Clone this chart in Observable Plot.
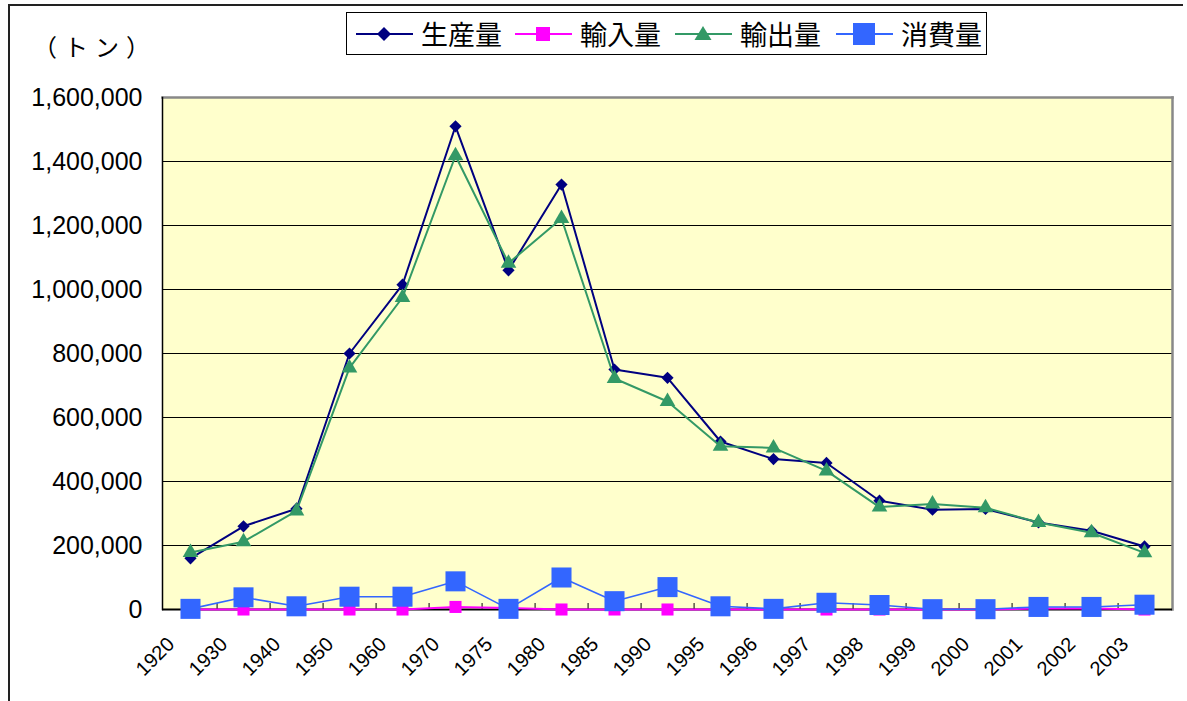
<!DOCTYPE html>
<html><head><meta charset="utf-8">
<script src="https://cdn.jsdelivr.net/npm/d3@7"></script>
<script src="https://cdn.jsdelivr.net/npm/@observablehq/plot@0.6"></script>
<style>
html,body{margin:0;padding:0;background:#fff;}
#wrap{position:relative;width:1187px;height:701px;overflow:hidden;font-family:"Liberation Sans",Arial,sans-serif;}
#outer-left{position:absolute;left:8px;top:4px;width:2px;height:700px;background:#222;}
#outer-top{position:absolute;left:8px;top:4px;width:1175px;height:2px;background:#222;}
#unit{position:absolute;left:33px;top:30px;font-family:"Noto Sans CJK JP",sans-serif;font-size:24px;letter-spacing:7px;line-height:32px;color:#000;}
#legend{position:absolute;left:346px;top:12px;width:639px;height:41px;border:1.5px solid #000;background:#fff;font-family:"Noto Sans CJK JP",sans-serif;font-size:27px;}
#legend .item{position:absolute;top:0;height:41px;display:flex;align-items:center;}
#legend svg{margin-right:8px;}
#chart{position:absolute;left:0;top:0;}
</style></head>
<body><div id="wrap">
<div id="chart"></div>
<div id="outer-left"></div><div id="outer-top"></div>
<div id="unit">（トン）</div>
<div id="legend"></div>
</div>
<script>
const years = ["1920","1930","1940","1950","1960","1970","1975","1980","1985","1990","1995","1996","1997","1998","1999","2000","2001","2002","2003"];
const production = [160000,260000,315000,800000,1015000,1510000,1060000,1328000,750000,724000,525000,470000,458000,340000,312000,314000,272000,246000,197000];
const imports = [0,0,0,0,0,8000,5000,0,0,0,0,0,0,0,0,0,3000,3000,0];
const exports = [178000,212000,308000,755000,975000,1418000,1082000,1222000,722000,650000,510000,505000,433000,320000,330000,318000,272000,240000,177000];
const consumption = [2000,38000,10000,40000,40000,88000,2000,100000,26000,70000,10000,2000,21000,14000,1000,1000,8000,8000,15000];
const yTicks = [0,200000,400000,600000,800000,1000000,1200000,1400000,1600000];
const seriesNames = ["生産量","輸入量","輸出量","消費量"];
const colors = {"生産量":"#000080","輸入量":"#FF00FF","輸出量":"#339966","消費量":"#3366FF"};
const symbols = {"生産量":"diamond2","輸入量":"square","輸出量":"triangle","消費量":"square"};
const radii = {"生産量":5.5,"輸入量":6.8,"輸出量":5.8,"消費量":11.3};
const widths = {"生産量":2,"輸入量":2,"輸出量":2,"消費量":1.6};
const valuesBySeries = {"生産量":production,"輸入量":imports,"輸出量":exports,"消費量":consumption};

const W = 1187, H = 701, ML = 162, MR = 15, MT = 97, MB = 92;
const step = (W - ML - MR) / years.length;

const marks = [
  Plot.frame({fill:"#FFFFCC"}),
  Plot.ruleY(yTicks.slice(1), {y:d=>d, stroke:"#000", strokeWidth:1}),
  Plot.frame({anchor:"right", stroke:"#888", strokeWidth:2.5}),
  Plot.frame({anchor:"top", stroke:"#888", strokeWidth:2.5}),
  Plot.ruleX(years.slice(0,-1), {x:d=>d, dx:step/2, insetTop:(H-MT-MB)-6, stroke:"#000", strokeWidth:1}),
  Plot.ruleY([0], {stroke:"#000", strokeWidth:2}),
  Plot.frame({anchor:"left", stroke:"#000", strokeWidth:1.5}),
  Plot.axisY(yTicks, {anchor:"left", tickSize:0, tickPadding:20, fontSize:25, tickFormat:d3.format(","), label:null, fill:"#000"}),
  Plot.text(years, {x:d=>d, frameAnchor:"bottom", dy:36, dx:-15, rotate:-45, textAnchor:"end", lineAnchor:"bottom", fontSize:20, fill:"#000"})
];
for (const s of seriesNames) {
  const vals = valuesBySeries[s];
  const data = years.map((y,i)=>({year:y, value:vals[i]}));
  marks.push(Plot.line(data, {x:"year", y:"value", stroke:colors[s], strokeWidth:widths[s]}));
  marks.push(Plot.dot(data, {x:"year", y:"value", symbol:symbols[s], r:radii[s], fill:colors[s], stroke:"none"}));
}

const chart = Plot.plot({
  width: W, height: H,
  marginLeft: ML, marginRight: MR, marginTop: MT, marginBottom: MB,
  style: {background:"transparent", fontFamily:"'Liberation Sans', Arial, sans-serif", color:"#000"},
  x: {type:"point", domain: years, padding:0.5, axis:null},
  y: {domain:[0,1600000], axis:null},
  marks
});
document.getElementById("chart").appendChild(chart);

// Legend
const legend = document.getElementById("legend");
const legendLeft = [9, 168, 328, 489];
seriesNames.forEach((s, i) => {
  const item = document.createElement("div");
  item.className = "item";
  item.style.left = legendLeft[i] + "px";
  const sym = symbols[s];
  let marker;
  const c = colors[s];
  if (sym === "diamond2") marker = `<path d="M28,6 L35,13 L28,20 L21,13 Z" fill="${c}"/>`;
  else if (sym === "triangle") marker = `<path d="M28,5 L36.5,19 L19.5,19 Z" fill="${c}"/>`;
  else if (s === "消費量") marker = `<rect x="17" y="2" width="22" height="22" fill="${c}"/>`;
  else marker = `<rect x="21" y="6" width="14" height="14" fill="${c}"/>`;
  item.innerHTML = `<svg width="57" height="26"><line x1="0" y1="13" x2="57" y2="13" stroke="${c}" stroke-width="2"/>${marker}</svg><span>${s}</span>`;
  legend.appendChild(item);
});
</script>
</body></html>
